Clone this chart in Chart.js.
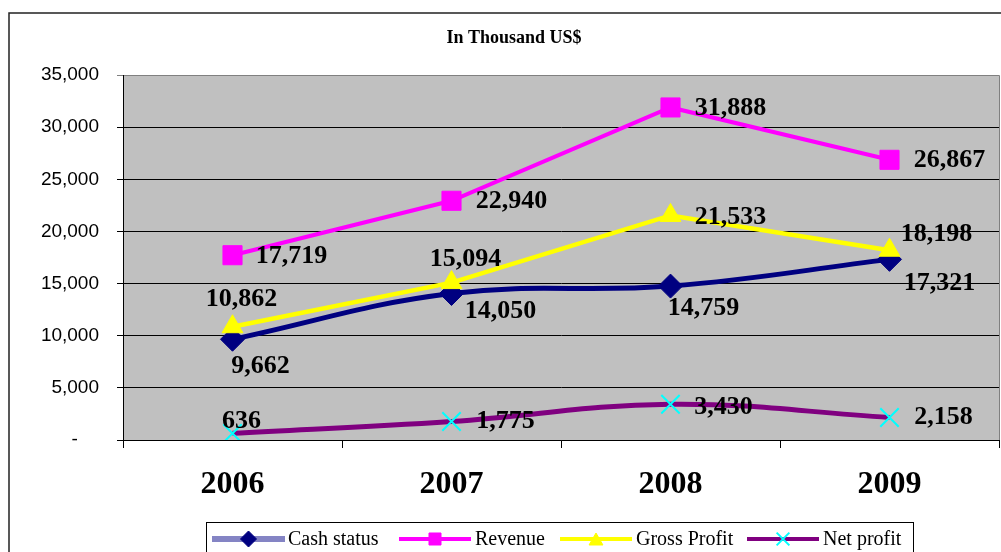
<!DOCTYPE html>
<html>
<head>
<meta charset="utf-8">
<title>In Thousand US$</title>
<script src="https://cdn.jsdelivr.net/npm/chart.js@4.4.1/dist/chart.umd.min.js"></script>
<style>
    body { margin: 0; background: #fff; }
    #chartBox { width: 1001px; height: 552px; }
</style>
</head>
<body>
<div id="chartBox"><canvas id="lineChart" width="1001" height="552"></canvas></div>
<script>
    // values (thousand US$)
    var years = ["2006", "2007", "2008", "2009"];
    var cashStatus = [9662, 14050, 14759, 17321];
    var revenue = [17719, 22940, 31888, 26867];
    var grossProfit = [10862, 15094, 21533, 18198];
    var netProfit = [636, 1775, 3430, 2158];
    var yTicks = [0, 5000, 10000, 15000, 20000, 25000, 30000, 35000];

    // where each value label sits relative to its point (dx, dy in px)
    var labelOffsets = [
        [[28, 27], [49, 18], [33, 22], [50, 24]],
        [[59, 1], [60, 1], [60, 1], [60, 0]],
        [[9, -27], [14, -23], [60, 2], [47, -16]],
        [[9, -12], [54, 0], [53, 3], [54, 0]]
    ];

    var legendItems = [
        { text: "Cash status", line: "#8484c4", lineW: 6, point: "rectRot", fill: "#000080", x0: 212, x1: 285, tx: 288 },
        { text: "Revenue", line: "#ff00ff", lineW: 4, point: "rect", fill: "#ff00ff", x0: 399, x1: 471, tx: 475 },
        { text: "Gross Profit", line: "#ffff00", lineW: 4, point: "triangle", fill: "#ffff00", x0: 560, x1: 632, tx: 636 },
        { text: "Net profit", line: "#800080", lineW: 4, point: "crossRot", fill: "#00ffff", x0: 747, x1: 819, tx: 823 }
    ];

    function fmt(v) {
        return v.toLocaleString("en-US");
    }

    // frame, title, plot background and the bottom legend are drawn by hand
    var excelLook = {
        id: "excelLook",
        beforeDraw: function(chart) {
            var ctx = chart.ctx;
            var a = chart.chartArea;
            ctx.save();
            ctx.fillStyle = "#fff";
            ctx.fillRect(0, 0, chart.width, chart.height);
            ctx.strokeStyle = "#222";
            ctx.lineWidth = 1.5;
            ctx.strokeRect(9, 13, 1100, 700);
            ctx.fillStyle = "#c0c0c0";
            ctx.fillRect(a.left, a.top, a.right - a.left, a.bottom - a.top);
            ctx.strokeStyle = "#808080";
            ctx.lineWidth = 1;
            ctx.beginPath();
            ctx.moveTo(a.left, a.top + 0.5);
            ctx.lineTo(a.right + 0.5, a.top + 0.5);
            ctx.lineTo(a.right + 0.5, a.bottom);
            ctx.stroke();
            ctx.fillStyle = "#000";
            ctx.font = "bold 18px 'Liberation Serif'";
            ctx.textAlign = "center";
            ctx.textBaseline = "middle";
            ctx.fillText("In Thousand US$", 514, 38);
            ctx.restore();
        },
        afterDatasetsDraw: function(chart) {
            var ctx = chart.ctx;
            ctx.save();
            ctx.fillStyle = "#000";
            ctx.font = "bold 26px 'Liberation Serif'";
            ctx.textAlign = "center";
            ctx.textBaseline = "middle";
            chart.data.datasets.forEach(function(ds, i) {
                var meta = chart.getDatasetMeta(i);
                meta.data.forEach(function(pt, j) {
                    var off = labelOffsets[i][j];
                    ctx.fillText(fmt(ds.data[j]), pt.x + off[0], pt.y + off[1]);
                });
            });
            ctx.restore();
        },
        afterDraw: function(chart) {
            var ctx = chart.ctx;
            var ly = 539;
            ctx.save();
            ctx.strokeStyle = "#000";
            ctx.lineWidth = 1;
            ctx.strokeRect(206.5, 522.5, 707, 100);
            legendItems.forEach(function(item) {
                ctx.strokeStyle = item.line;
                ctx.lineWidth = item.lineW;
                ctx.beginPath();
                ctx.moveTo(item.x0, ly);
                ctx.lineTo(item.x1, ly);
                ctx.stroke();
                var cx = (item.x0 + item.x1) / 2;
                var opts = {
                    pointStyle: item.point,
                    radius: item.point == "crossRot" ? 9 : (item.point == "rect" ? 8.5 : 8),
                    rotation: 0,
                    borderWidth: item.point == "crossRot" ? 2 : 1
                };
                ctx.fillStyle = item.fill;
                ctx.strokeStyle = item.fill;
                ctx.lineWidth = opts.borderWidth;
                Chart.helpers.drawPoint(ctx, opts, cx, ly + (item.point == "triangle" ? 2 : 0));
                ctx.fillStyle = "#000";
                ctx.font = "20px 'Liberation Serif'";
                ctx.textAlign = "left";
                ctx.textBaseline = "middle";
                ctx.fillText(item.text, item.tx, ly + 1);
            });
            ctx.restore();
        }
    };

    var myContainer = document.getElementById("lineChart");
    var myChart = new Chart(myContainer, {
        type: "line",
        data: {
            labels: years,
            datasets: [{
                label: "Cash status",
                data: cashStatus,
                borderColor: "#000080",
                backgroundColor: "#000080",
                borderWidth: 5,
                tension: 0.4,
                pointStyle: "rectRot",
                pointRadius: 12,
                pointBorderWidth: 1,
                order: 4
            }, {
                label: "Revenue",
                data: revenue,
                borderColor: "#ff00ff",
                backgroundColor: "#ff00ff",
                borderWidth: 4,
                tension: 0,
                pointStyle: "rect",
                pointRadius: 13.5,
                pointBorderWidth: 1,
                order: 3
            }, {
                label: "Gross Profit",
                data: grossProfit,
                borderColor: "#ffff00",
                backgroundColor: "#ffff00",
                borderWidth: 4.5,
                tension: 0,
                pointStyle: "triangle",
                pointRadius: 12,
                pointBorderWidth: 1,
                order: 2
            }, {
                label: "Net profit",
                data: netProfit,
                borderColor: "#800080",
                backgroundColor: "#00ffff",
                pointBorderColor: "#00ffff",
                borderWidth: 5,
                tension: 0.4,
                pointStyle: "crossRot",
                pointRadius: 13,
                pointBorderWidth: 2,
                order: 1
            }]
        },
        options: {
            responsive: false,
            animation: false,
            devicePixelRatio: 1,
            // autoPadding would reserve room for the big markers and shrink the plot
            layout: { autoPadding: false, padding: { top: 75, left: 0, right: 2, bottom: 48 } },
            plugins: {
                legend: { display: false },
                title: { display: false },
                tooltip: { enabled: false }
            },
            scales: {
                x: {
                    offset: true,
                    afterFit: function(s) { s.height = 64; },
                    border: { color: "#000", width: 1 },
                    grid: { offset: true, drawOnChartArea: false, color: "#000", tickLength: 8 },
                    ticks: {
                        color: "#000",
                        padding: 18,
                        font: { family: "'Liberation Serif'", size: 32, weight: "bold" }
                    }
                },
                y: {
                    min: 0,
                    max: 35000,
                    afterFit: function(s) { s.width = 123; },
                    afterBuildTicks: function(s) {
                        s.ticks = yTicks.map(function(v) { return { value: v }; });
                    },
                    border: { color: "#000", width: 1 },
                    grid: {
                        color: function(c) { return c.tick && c.tick.value == 35000 ? "#808080" : "#000"; },
                        tickLength: 6
                    },
                    ticks: {
                        color: "#000",
                        padding: 18,
                        font: { family: "'Liberation Sans'", size: 19 },
                        callback: function(v) { return v == 0 ? "-    " : fmt(v); }
                    }
                }
            }
        },
        plugins: [excelLook]
    });
</script>
</body>
</html>
